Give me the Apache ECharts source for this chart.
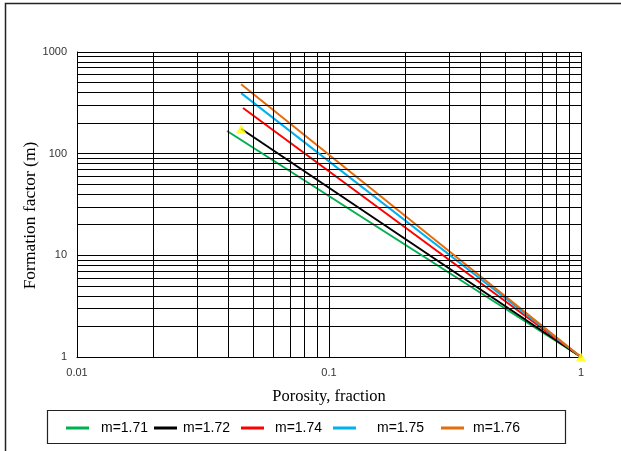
<!DOCTYPE html>
<html><head><meta charset="utf-8">
<script src="https://cdn.jsdelivr.net/npm/echarts@6/dist/echarts.min.js"></script>
<style>html,body{margin:0;padding:0;background:#fff}#c{width:621px;height:451px}</style>
</head><body><div id="c"></div>
<script>
// ---- data ----
const seriesNames = ['m=1.71', 'm=1.72', 'm=1.74', 'm=1.75', 'm=1.76'];
const porosityStart = [0.0394, 0.0448, 0.0456, 0.0448, 0.0448];
const factorStart = [167, 176, 281, 394, 481];
const porosityEnd = [1, 1, 1, 1, 1];
const factorEnd = [1, 1, 1, 1, 1];
const markerPorosity = [0.0448, 1];
const markerFactor = [176, 1];
const xMinorGrid = [0.02, 0.03, 0.04, 0.05, 0.06, 0.07, 0.08, 0.09, 0.2, 0.3, 0.4, 0.5, 0.6, 0.7, 0.8, 0.9];
const yMinorGrid = [2, 3, 4, 5, 6, 7, 8, 9, 20, 30, 40, 50, 60, 70, 80, 90, 200, 300, 400, 500, 600, 700, 800, 900];

// ---- styles ----
const seriesColors = ['#00b050', '#000000', '#ff0000', '#00b0f0', '#e46c0a'];
const legendLeft = [66, 154, 241, 333, 441];
const legendTextPad = [7, 1, 6, 16, 4];

const chart = echarts.init(document.getElementById('c'), null, {renderer: 'canvas'});
const fmt = v => String(Number(Number(v).toPrecision(4)));

const gridLine = {color: '#000', width: 1, type: 'solid'};
const series = [{
  type: 'line', name: '_grid', data: [], z: 1, silent: true,
  markLine: {
    silent: true, symbol: ['none', 'none'], label: {show: false}, animation: false,
    lineStyle: gridLine, emphasis: {disabled: true},
    data: xMinorGrid.map(v => ({xAxis: v})).concat(yMinorGrid.map(v => ({yAxis: v})))
  }
}];
seriesNames.forEach((n, i) => {
  series.push({
    type: 'line', name: n, z: 3,
    data: [[porosityStart[i], factorStart[i]], [porosityEnd[i], factorEnd[i]]],
    showSymbol: false, symbol: 'none',
    lineStyle: {color: seriesColors[i], width: 2},
    itemStyle: {color: seriesColors[i]},
    animation: false
  });
});
series.push({
  type: 'scatter', name: '_marker', z: 4, symbol: 'triangle', symbolSize: [10, 9],
  itemStyle: {color: '#ffff00'},
  data: markerPorosity.map((x, i) => [x, markerFactor[i]]),
  animation: false
});

const legends = seriesNames.map((n, i) => ({
  data: [n], left: legendLeft[i], top: 420, padding: 0,
  icon: 'rect', itemWidth: 23, itemHeight: 3, selectedMode: false,
  textStyle: {fontFamily: 'Liberation Sans, Arial, sans-serif', fontSize: 14, color: '#000',
    lineHeight: 16, padding: [0, 0, 0, legendTextPad[i]]}
}));

chart.setOption({
  backgroundColor: '#fff',
  animation: false,
  grid: {left: 77, right: 40, top: 52, bottom: 94, containLabel: false},
  legend: legends,
  graphic: [
    {type: 'rect', shape: {x: 5.5, y: 3.5, width: 700, height: 600}, style: {fill: 'none', stroke: '#222', lineWidth: 1.5}, silent: true, z: 0},
    {type: 'rect', shape: {x: 47.5, y: 410.5, width: 518, height: 33}, style: {fill: 'none', stroke: '#222', lineWidth: 1.2}, silent: true, z: 0}
  ],
  xAxis: {
    type: 'log', logBase: 10, min: 0.01, max: 1,
    name: 'Porosity, fraction', nameLocation: 'middle', nameGap: 31, nameMoveOverlap: false,
    nameTextStyle: {fontFamily: 'Liberation Serif, Times New Roman, serif', fontSize: 16.5, color: '#000'},
    axisLine: {show: true, lineStyle: {color: '#000', width: 1}},
    axisTick: {show: false},
    axisLabel: {formatter: fmt, fontFamily: 'Liberation Sans, Arial, sans-serif', fontSize: 11, color: '#333', margin: 10},
    splitLine: {show: true, lineStyle: gridLine}
  },
  yAxis: {
    type: 'log', logBase: 10, min: 1, max: 1000,
    name: 'Formation factor (m)', nameLocation: 'middle', nameGap: 38, nameRotate: 90, nameMoveOverlap: false,
    nameTextStyle: {fontFamily: 'Liberation Serif, Times New Roman, serif', fontSize: 17.5, color: '#000',
      padding: [0, 22, 0, 0]},
    axisLine: {show: true, lineStyle: {color: '#000', width: 1}},
    axisTick: {show: false},
    axisLabel: {formatter: fmt, fontFamily: 'Liberation Sans, Arial, sans-serif', fontSize: 11, color: '#333', margin: 10},
    splitLine: {show: true, lineStyle: gridLine}
  },
  series: series
});
</script></body></html>
